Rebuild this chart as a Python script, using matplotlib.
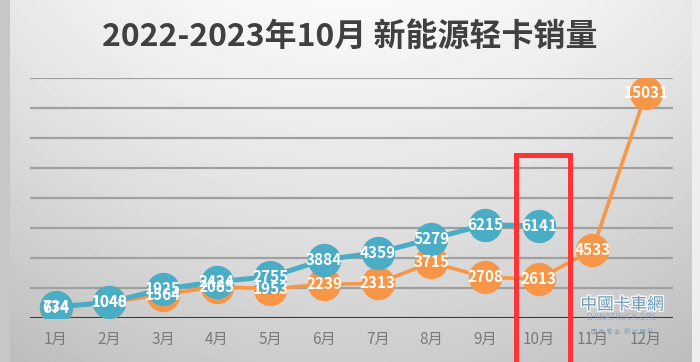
import numpy as np
import matplotlib
matplotlib.use("Agg")
import matplotlib.pyplot as plt
from matplotlib.patches import Rectangle
import matplotlib.patheffects as pe

plt.rcParams['font.family'] = ['Noto Sans CJK SC', 'DejaVu Sans']

# data
months = ["1月", "2月", "3月", "4月", "5月", "6月", "7月", "8月", "9月", "10月", "11月", "12月"]
sales_2022 = [674, 1040, 1564, 2085, 1953, 2239, 2313, 3715, 2708, 2613, 4533, 15031]
sales_2023 = [734, 1048, 1925, 2424, 2755, 3884, 4359, 5279, 6215, 6141]
title = "2022-2023年10月 新能源轻卡销量"

orange = "#F79646"
blue = "#4BACC6"

fig = plt.figure(figsize=(7, 3.62), dpi=100)

# grey gradient background like the excel chart area
bg = fig.add_axes([0, 0, 1, 1], zorder=-5)
h, w = 362, 700
yy, xx = np.mgrid[0:h, 0:w]
grad = 0.975 - 0.17 * (yy / h) ** 1.2 - 0.07 * ((xx - 350) / 350) ** 2
grad[:, :10] = 0.78
grad[:, 692:] = 0.93
bg.imshow(grad, cmap="gray", vmin=0, vmax=1, aspect="auto", interpolation="bilinear")
bg.axis("off")

ax = fig.add_axes([30 / 700, 1 - 318 / 362, 643 / 700, 240 / 362])
ax.set_facecolor("none")
x_all = np.arange(len(months))

ax.plot(x_all, sales_2022, color=orange, lw=2.6, marker="o", ms=23,
        mec=orange, mfc=orange, zorder=3)
ax.plot(x_all[:len(sales_2023)], sales_2023, color=blue, lw=3.6, marker="o", ms=23,
        mec=blue, mfc=blue, zorder=4)

for i, v in enumerate(sales_2022):
    ax.text(i, v, str(v), ha="center", va="center", color="white", fontsize=11,
            fontweight="bold", zorder=5)
for i, v in enumerate(sales_2023):
    ax.text(i, v, str(v), ha="center", va="center", color="white", fontsize=11,
            fontweight="bold", zorder=6)

ax.set_xlim(-0.48, 11.5)
ax.set_ylim(0, 16000)
ax.set_yticks(np.arange(0, 16001, 2000))
ax.set_yticklabels([])
ax.yaxis.grid(True, color="#a0a0a0", lw=1.6)
ax.set_axisbelow(True)
ax.axhline(0, color="#3a3a3a", lw=2.2, zorder=2)
for s in ax.spines.values():
    s.set_visible(False)
ax.set_xticks(x_all)
ax.set_xticklabels(months, fontsize=11, color="#7a7a7a")
ax.tick_params(axis="both", length=0)
ax.tick_params(axis="x", pad=9)

fig.text(0.5, 1 - 37 / 362, title, ha="center", va="center", fontsize=23,
         fontweight="bold", color="#404040")

# red highlight box around October
fig.add_artist(Rectangle((515.5 / 700, -0.02), 54.5 / 700, 1.02 - 154.5 / 362,
                         transform=fig.transFigure, fill=False, ec="#FF3333", lw=3.6,
                         zorder=10))

# watermark
stroke = [pe.withStroke(linewidth=2, foreground="white")]
fig.text(622 / 700, 1 - 305 / 362, "中國卡車網", ha="center", va="center", fontsize=12,
         color="#5b8fae", alpha=0.85, zorder=11, path_effects=stroke)
fig.text(622 / 700, 1 - 318 / 362, "CHINATRUCK.ORG", ha="center", va="center", fontsize=6,
         color="#8aa5b8", alpha=0.85, zorder=11)
fig.text(622 / 700, 1 - 332 / 362, "因 为 专 业   所 以 精 彩", ha="center", va="center",
         fontsize=4.5, color="#5b8fae", alpha=0.8, zorder=11)

fig.savefig("out.png", dpi=100)
